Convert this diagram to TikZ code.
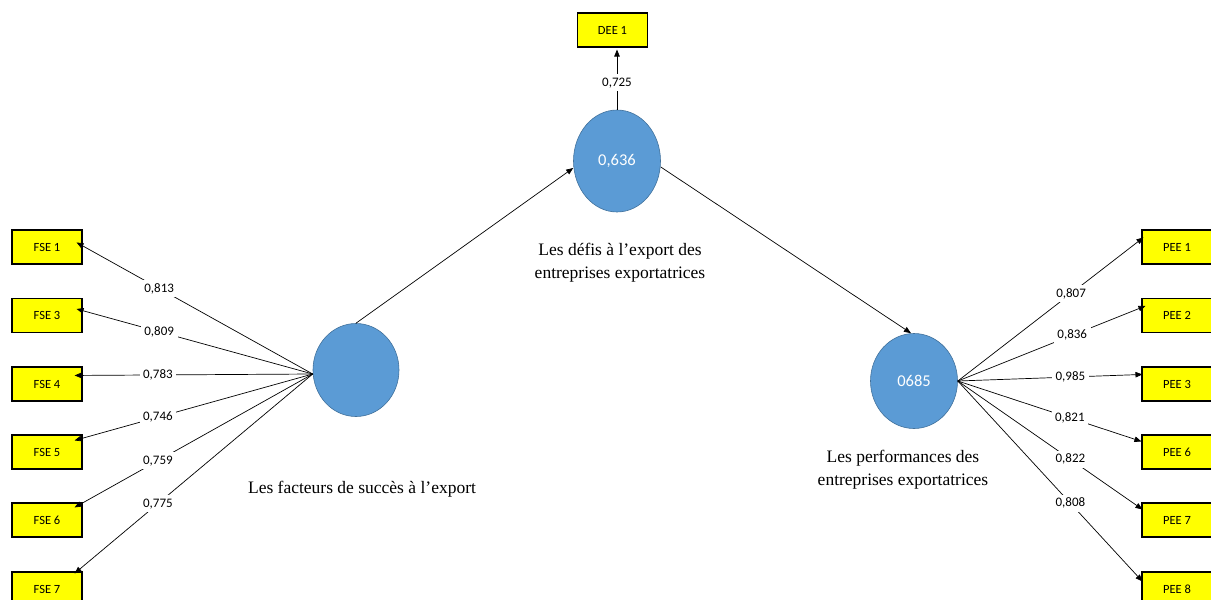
\documentclass[tikz,border=0pt]{standalone}
\usepackage{fontspec}
\setmainfont{Liberation Serif}
\newfontfamily\calib{Carlito}
\usetikzlibrary{arrows.meta,shapes.geometric}
\definecolor{lvfill}{HTML}{5B9BD5}
\definecolor{lvedge}{HTML}{41719C}
\definecolor{itemfill}{HTML}{FFFF00}
\begin{document}
\begin{tikzpicture}[x=1pt,y=-1pt,
  item/.style={draw=black,line width=1.1pt,fill=itemfill,minimum width=70pt,
    minimum height=34pt,inner sep=0pt,font=\calib\fontsize{12.5}{14}\selectfont},
  latent/.style={ellipse,draw=lvedge,line width=0.6pt,fill=lvfill,inner sep=0pt,
    text=white,font=\calib\fontsize{16.5}{18}\selectfont},
  load/.style={draw=black,line width=0.7pt,-{Triangle[length=7pt,width=5.5pt]}},
  coef/.style={fill=white,inner sep=3.5pt,font=\calib\fontsize{13}{15}\selectfont},
  caption/.style={align=center,font=\fontsize{17.5}{23}\selectfont}]
\useasboundingbox (0,0) rectangle (1211,600);

% latent variables
\node[latent,minimum width=86pt,minimum height=93pt]  (lc) at (356,370) {};
\node[latent,minimum width=87pt,minimum height=102pt] (mc) at (617,161) {0,636};
\node[latent,minimum width=87pt,minimum height=95pt]  (rc) at (914,381) {0685};

% captions
\node[caption] (lcap) at (362,489) {Les facteurs de succès à l’export};
\node[caption] (mcap) at (620,263) {Les défis à l’export des\\entreprises exportatrices};
\node[caption] (rcap) at (903,470) {Les performances des\\entreprises exportatrices};

% indicators
\node[item] (fse1) at (47,247)   {FSE 1};
\node[item] (fse3) at (47,315.5) {FSE 3};
\node[item] (fse4) at (47,384)   {FSE 4};
\node[item] (fse5) at (47,452)   {FSE 5};
\node[item] (fse6) at (47,520)   {FSE 6};
\node[item] (fse7) at (47,589)   {FSE 7};

\node[item] (pee1) at (1177,247)   {PEE 1};
\node[item] (pee2) at (1177,315.5) {PEE 2};
\node[item] (pee3) at (1177,384)   {PEE 3};
\node[item] (pee6) at (1177,452)   {PEE 6};
\node[item] (pee7) at (1177,520)   {PEE 7};
\node[item] (pee8) at (1177,589)   {PEE 8};

\node[item] (dee1) at (612.5,30) {DEE 1};

% outer loadings, left construct
\coordinate (lsrc) at ([yshift=-4pt]lc.west);
\draw[load] (lsrc) -- node[coef,pos=0.65]{0,813} ([xshift=-6pt,yshift=-13pt]fse1.north east);
\draw[load] (lsrc) -- node[coef,pos=0.65]{0,809} ([xshift=-6pt,yshift=-11pt]fse3.north east);
\draw[load] (lsrc) -- node[coef,pos=0.65]{0,783} ([xshift=-8pt,yshift=-9pt]fse4.north east);
\draw[load] (lsrc) -- node[coef,pos=0.65]{0,746} ([xshift=-8pt,yshift=-6pt]fse5.north east);
\draw[load] (lsrc) -- node[coef,pos=0.65]{0,759} ([xshift=-8pt,yshift=-5pt]fse6.north east);
\draw[load] (lsrc) -- node[coef,pos=0.65]{0,775} ([xshift=-8pt,yshift=-2pt]fse7.north east);

% outer loadings, right construct
\coordinate (rsrc) at (rc.east);
\draw[load] (rsrc) -- node[coef,pos=0.61]{0,807} ([xshift=2pt,yshift=-8pt]pee1.north west);
\draw[load] (rsrc) -- node[coef,pos=0.61]{0,836} ([xshift=4pt,yshift=-8pt]pee2.north west);
\draw[load] (rsrc) -- node[coef,pos=0.61]{0,985} ([xshift=1pt,yshift=-8pt]pee3.north west);
\draw[load] (rsrc) -- node[coef,pos=0.61]{0,821} ([xshift=0pt,yshift=-7pt]pee6.north west);
\draw[load] (rsrc) -- node[coef,pos=0.61]{0,822} ([xshift=1pt,yshift=-7pt]pee7.north west);
\draw[load] (rsrc) -- node[coef,pos=0.61]{0,808} ([xshift=1pt,yshift=-10pt]pee8.north west);

% outer loading, middle construct
\coordinate (deetip) at (mc.north |- dee1.south);
\draw[load] (mc.north) -- node[coef,pos=0.45]{0,725} ([yshift=-2pt]deetip);

% structural paths
\draw[load] (lc.north) -- ([yshift=-7pt]mc.west);
\draw[load] ([yshift=-6pt]mc.east) -- ([xshift=-3pt]rc.north);
\end{tikzpicture}
\end{document}
